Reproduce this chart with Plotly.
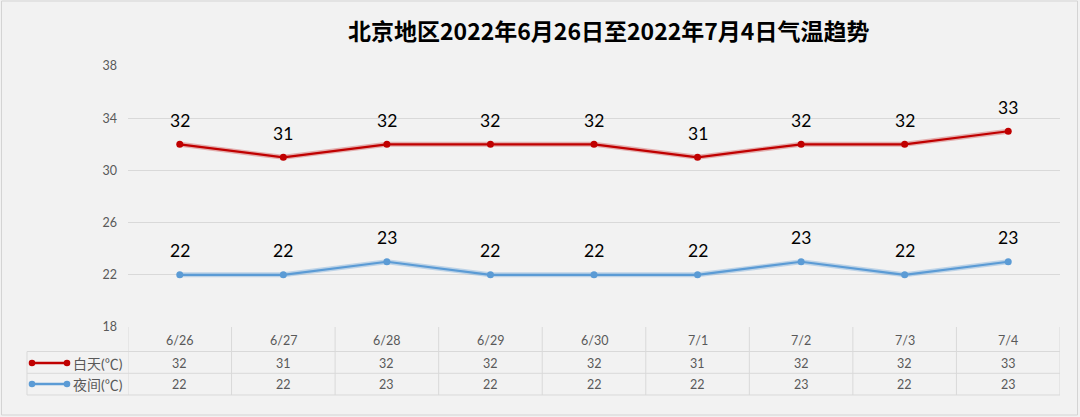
import plotly.graph_objects as go

dates = ["6/26", "6/27", "6/28", "6/29", "6/30", "7/1", "7/2", "7/3", "7/4"]
day_temp = [32, 31, 32, 32, 32, 31, 32, 32, 33]
night_temp = [22, 22, 23, 22, 22, 22, 23, 22, 23]
series_names = ["白天(℃)", "夜间(℃)"]
y_ticks = [18, 22, 26, 30, 34, 38]
title_text = "北京地区2022年6月26日至2022年7月4日气温趋势"

W, H = 1080, 417
RED = "#c00000"
BLUE = "#5b9bd5"
GRID = "#d9d9d9"
TXT = "#595959"
FONT = "Lato, Noto Sans CJK SC, sans-serif"

def px(x):
    return x / W

def py(y):
    return 1 - y / H

fig = go.Figure()

# soft shadow under lines
for vals, col in [(day_temp, "rgba(192,0,0,0.28)"), (night_temp, "rgba(91,155,213,0.35)")]:
    fig.add_trace(go.Scatter(x=dates, y=vals, mode="lines",
                             line=dict(color=col, width=5), hoverinfo="skip", showlegend=False))

fig.add_trace(go.Scatter(x=dates, y=day_temp, mode="lines+markers", name=series_names[0],
                         line=dict(color=RED, width=2.2), marker=dict(color=RED, size=7),
                         showlegend=False))
fig.add_trace(go.Scatter(x=dates, y=night_temp, mode="lines+markers", name=series_names[1],
                         line=dict(color=BLUE, width=2.2), marker=dict(color=BLUE, size=7),
                         showlegend=False))

annotations = []
# data labels
for vals in (day_temp, night_temp):
    for d, v in zip(dates, vals):
        annotations.append(dict(x=d, y=v, xref="x", yref="y", text=str(v), showarrow=False,
                                yshift=24, xanchor="center", yanchor="middle",
                                font=dict(size=17.5, color="#000000", family=FONT)))

# table text
row_y = [340, 363, 384]
for d in dates:
    annotations.append(dict(x=d, y=py(row_y[0]), xref="x", yref="paper", text=d, showarrow=False,
                            xanchor="center", yanchor="middle",
                            font=dict(size=12.5, color=TXT, family=FONT)))
for vals, ry in [(day_temp, row_y[1]), (night_temp, row_y[2])]:
    for d, v in zip(dates, vals):
        annotations.append(dict(x=d, y=py(ry), xref="x", yref="paper", text=str(v), showarrow=False,
                                xanchor="center", yanchor="middle",
                                font=dict(size=12.5, color=TXT, family=FONT)))
for name, ry in zip(series_names, row_y[1:]):
    annotations.append(dict(x=px(125), y=py(ry), xref="paper", yref="paper", text=name,
                            showarrow=False, xanchor="right", yanchor="middle",
                            font=dict(size=14, color=TXT, family=FONT)))

# title
annotations.append(dict(x=px(608), y=py(30), xref="paper", yref="paper", text="<b>" + title_text + "</b>",
                        showarrow=False, xanchor="center", yanchor="middle",
                        font=dict(size=23, color="#000000", family="Noto Sans CJK SC, sans-serif")))

shapes = []
tb_top, tb_r1, tb_r2, tb_bot = 327, 351.5, 373.3, 395
# horizontal table lines
for yy in (tb_r1, tb_r2, tb_bot):
    shapes.append(dict(type="line", xref="paper", yref="paper", x0=px(27), x1=px(1060),
                       y0=py(yy), y1=py(yy), line=dict(color=GRID, width=1), layer="below"))
# vertical table lines
for i in range(len(dates) + 1):
    shapes.append(dict(type="line", xref="x", yref="paper", x0=i - 0.5, x1=i - 0.5,
                       y0=py(tb_top), y1=py(tb_bot), line=dict(color=GRID, width=1), layer="below"))
shapes.append(dict(type="line", xref="paper", yref="paper", x0=px(27), x1=px(27),
                   y0=py(tb_r1), y1=py(tb_bot), line=dict(color=GRID, width=1), layer="below"))

# legend keys
for col, ry in [(RED, row_y[1]), (BLUE, row_y[2])]:
    shapes.append(dict(type="line", xref="paper", yref="paper", x0=px(32), x1=px(67),
                       y0=py(ry), y1=py(ry), line=dict(color=col, width=2.5)))
    for cx in (32, 67):
        shapes.append(dict(type="circle", xref="paper", yref="paper", x0=px(cx - 3.3), x1=px(cx + 3.3),
                           y0=py(ry + 3.3), y1=py(ry - 3.3), fillcolor=col, line=dict(width=0)))

# outer border
shapes.append(dict(type="rect", xref="paper", yref="paper", x0=px(1.5), x1=px(1077.5),
                   y0=py(415), y1=py(1), line=dict(color="#d4d4d4", width=1), layer="below"))

fig.update_layout(
    autosize=True,
    margin=dict(l=0, r=0, t=0, b=0),
    paper_bgcolor="#f2f2f2", plot_bgcolor="#f2f2f2",
    xaxis=dict(domain=[px(128), px(1060)], range=[-0.5, 8.5], showticklabels=False,
               showgrid=False, zeroline=False, fixedrange=True, type="category"),
    yaxis=dict(domain=[py(327), py(66)], range=[18, 38], tickvals=y_ticks,
               gridcolor=GRID, gridwidth=1, zeroline=False, showline=False, automargin=False,
               tickfont=dict(size=12.5, color=TXT, family=FONT), ticks="", ticklabelstandoff=10),
    annotations=annotations,
    shapes=shapes,
    font=dict(family=FONT),
)

fig.write_html("out.html",
               config={"displayModeBar": False},
               default_width="1080px;position:fixed;left:0;top:0",
               default_height="417px",
               post_script="document.body.style.margin='0';document.body.style.background='#f2f2f2';")
